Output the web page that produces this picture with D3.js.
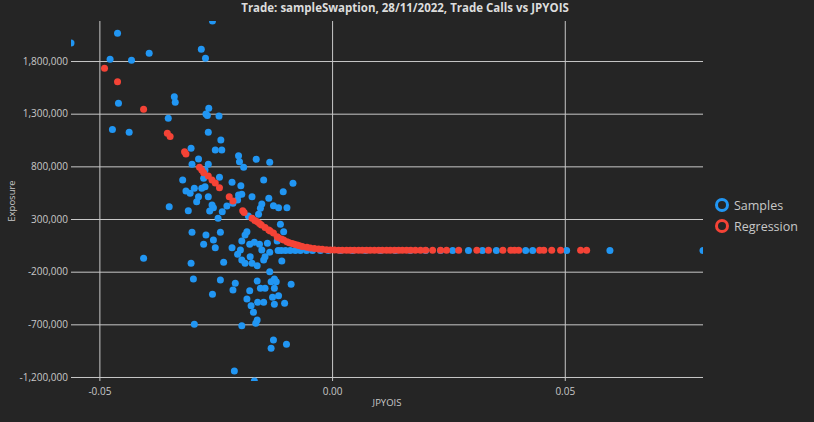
<!DOCTYPE html>
<html lang="en">
<head>
  <meta charset="UTF-8">
  <title>Trade Calls vs JPYOIS</title>
  <script src="https://d3js.org/d3.v7.min.js"></script>
  <style>
    body { margin: 0; background: #252525; }
    svg { display: block; }
    text { font-family: "Open Sans", "Noto Sans", sans-serif; fill: #c8c8c8; }
  </style>
</head>
<body>
<svg id="chart" width="814" height="422"></svg>

<script>
  // Samples: JPYOIS move vs exposure
  const sampleX = [
    -0.0561, -0.0461, -0.0477, -0.0431, -0.0393, -0.0459, -0.0472, -0.0436, -0.0405,
    -0.0257, -0.0281, -0.0272, -0.0339, -0.0337, -0.0352, -0.0265, -0.0271, -0.0268, -0.0243,
    -0.0266, -0.0239, -0.0303, -0.0237, -0.0251, -0.0287, -0.0301, -0.0266, -0.0273,
    -0.0201, -0.0199, -0.0190, -0.0163, -0.0134, -0.0321, -0.0276, -0.0242, -0.0215,
    -0.0196, -0.0147, -0.0084, -0.0314, -0.0296, -0.0280, -0.0273, -0.0305, -0.0287,
    -0.0266, -0.0291, -0.0258, -0.0201, -0.0194, -0.0203, -0.0172, -0.0136, -0.0105,
    -0.0350, -0.0309, -0.0263, -0.0255, -0.0226, -0.0236, -0.0213, -0.0151, -0.0154,
    -0.0126, -0.0115, -0.0097, -0.0245, -0.0180, -0.0158, -0.0111, -0.0301, -0.0271,
    -0.0240, -0.0276, -0.0255, -0.0251, -0.0215, -0.0194, -0.0183, -0.0187, -0.0197,
    -0.0177, -0.0167, -0.0156, -0.0139, -0.0134, -0.0118, -0.0104, -0.0203, -0.0176,
    -0.0303, -0.0233, -0.0194, -0.0187, -0.0172, -0.0161, -0.0147, -0.0144, -0.0108,
    -0.0298, -0.0240, -0.0208, -0.0213, -0.0257, -0.0177, -0.0161, -0.0154, -0.0144,
    -0.0134, -0.0131, -0.0124, -0.0120, -0.0124, -0.0088, -0.0183, -0.0174, -0.0160,
    -0.0147, -0.0128, -0.0115, -0.0124, -0.0102, -0.0169, -0.0161, -0.0164, -0.0194,
    -0.0296, -0.0126, -0.0098, -0.0131, -0.0210, -0.0167, -0.0151,
    -0.0116, -0.0109, -0.0100, -0.0090, -0.0079, -0.0068, -0.0055, -0.0042, -0.0025,
    -0.0008, 0.0018, 0.0044, 0.0072, 0.0104, 0.0136, 0.0168, 0.0201, 0.0233, 0.0259,
    0.0293, 0.0323, 0.0353, 0.0416, 0.0431, 0.0504, 0.0597, 0.0797
  ];
  const sampleY = [
    1970000, 2063000, 1816000, 1807000, 1873000, 1398000, 1151000, 1123000, -73000,
    2180000, 1911000, 1826000, 1461000, 1408000, 1256000, 1351000, 1297000, 1282000, 1278000,
    1123000, 1050000, 971000, 955000, 955000, 870000, 819000, 819000, 765000,
    901000, 844000, 791000, 867000, 838000, 670000, 686000, 696000, 648000,
    616000, 670000, 639000, 566000, 591000, 591000, 607000, 544000, 512000,
    512000, 464000, 433000, 528000, 534000, 480000, 512000, 496000, 559000,
    417000, 379000, 376000, 407000, 423000, 369000, 449000, 442000, 402000,
    426000, 407000, 407000, 307000, 328000, 345000, 250000, 174000, 148000,
    174000, 60000, 101000, 28000, 28000, 91000, 179000, 148000, 6000,
    60000, 79000, 60000, 69000, -16000, 91000, 179000, -35000, -58000,
    -121000, -111000, -89000, -121000, -121000, -143000, -89000, -58000, -99000,
    -270000, -279000, -310000, -374000, -415000, -381000, -289000, -358000, -358000,
    -200000, -295000, -270000, -295000, -358000, -320000, -459000, -523000, -491000,
    -491000, -443000, -428000, -510000, -500000, -586000, -659000, -690000, -713000,
    -700000, -849000, -889000, -927000, -1143000, -1238000, 6000,
    0, 0, 0, 0, 0, 0, 0, 0, 0,
    0, 0, 0, 0, 0, 0, 0, 0, 0, 0,
    0, 0, 0, 0, 0, 0, 0, 0
  ];

  // Regression curve fitted to the samples
  const regX = [
    -0.0489, -0.0461, -0.0405, -0.0354, -0.0348, -0.0317, -0.0314, -0.0285, -0.0280,
    -0.0276, -0.0266, -0.0258, -0.0251, -0.0242, -0.0221, -0.0213, -0.0192, -0.0189,
    -0.0172, -0.0166, -0.0161, -0.0156, -0.0152, -0.0144, -0.0136, -0.0133, -0.0126,
    -0.0118, -0.0116, -0.0109, -0.0104, -0.0097, -0.0092, -0.0086, -0.0081, -0.0075,
    -0.0070, -0.0064, -0.0054, -0.0047, -0.0038, -0.0029, -0.0021, -0.0012, -0.0004,
    0.0005, 0.0014, 0.0022, 0.0031, 0.0039, 0.0048, 0.0057, 0.0065, 0.0074, 0.0082,
    0.0091, 0.0100, 0.0108, 0.0117, 0.0125, 0.0134, 0.0143, 0.0151, 0.0160, 0.0169,
    0.0179, 0.0190, 0.0201, 0.0216, 0.0233, 0.0246, 0.0272, 0.0311, 0.0336, 0.0367,
    0.0384, 0.0392, 0.0401, 0.0446, 0.0455, 0.0472, 0.0491, 0.0534, 0.0547
  ];
  const regY = [
    1731000, 1603000, 1341000, 1114000, 1083000, 939000, 917000, 791000, 765000,
    740000, 708000, 670000, 642000, 597000, 512000, 471000, 379000, 362000,
    307000, 286000, 274000, 257000, 243000, 219000, 196000, 186000, 167000,
    132000, 124000, 110000, 101000, 84000, 74000, 67000, 60000, 53000,
    46000, 39000, 31000, 25000, 19000, 15000, 12000, 9000, 6000,
    5000, 4000, 4000, 4000, 3000, 3000, 3000, 3000, 3000, 3000,
    3000, 3000, 3000, 3000, 3000, 3000, 3000, 3000, 3000, 3000,
    3000, 3000, 3000, 3000, 3000, 3000, 3000, 3000, 3000, 3000,
    3000, 3000, 3000, 3000, 3000, 3000, 3000, 3000, 3000
  ];

  const xTicks = [-0.05, 0.00, 0.05];
  const yTicks = [-1200000, -700000, -200000, 300000, 800000, 1300000, 1800000];
  const seriesNames = ["Samples", "Regression"];
  const seriesColors = ["#2196f3", "#f44336"];

  const locale = d3.formatLocale({decimal: ".", thousands: ",", grouping: [3], currency: ["", ""], minus: "-"});

  const svg = d3.select("#chart");
  const plotLeft = 71, plotRight = 703, plotTop = 21, plotBottom = 381;

  const samples = sampleX.map((x, i) => ({x: x, y: sampleY[i]}));
  const regression = regX.map((x, i) => ({x: x, y: regY[i]}));
  const all = samples.concat(regression);

  // axes span exactly the data extent, like the original
  const x = d3.scaleLinear().domain(d3.extent(all, d => d.x)).range([plotLeft, plotRight]);
  const y = d3.scaleLinear().domain(d3.extent(all, d => d.y)).range([plotBottom, plotTop]);

  svg.append("defs").append("clipPath").attr("id", "plot-clip")
    .append("rect").attr("x", plotLeft).attr("y", plotTop)
    .attr("width", plotRight - plotLeft).attr("height", plotBottom - plotTop);

  // gridlines
  svg.append("g")
    .attr("transform", `translate(0,${plotBottom})`)
    .call(d3.axisBottom(x).tickValues(xTicks).tickSize(-(plotBottom - plotTop)).tickSizeOuter(0).tickFormat(locale.format(".2f")))
    .call(g => g.select(".domain").remove())
    .call(g => g.selectAll(".tick line").attr("stroke", "#c8c8c8"))
    .call(g => g.selectAll(".tick text").attr("y", 7).attr("font-size", 10).attr("fill", "#c8c8c8")
      .style("font-family", "'Open Sans', sans-serif"));

  svg.append("g")
    .attr("transform", `translate(${plotLeft},0)`)
    .call(d3.axisLeft(y).tickValues(yTicks).tickSize(-(plotRight - plotLeft)).tickSizeOuter(0).tickFormat(locale.format(",")))
    .call(g => g.select(".domain").remove())
    .call(g => g.selectAll(".tick line").attr("stroke", "#c8c8c8"))
    .call(g => g.selectAll(".tick text").attr("x", -3).attr("font-size", 10).attr("fill", "#c8c8c8")
      .style("font-family", "'Open Sans', sans-serif"));

  const plot = svg.append("g").attr("clip-path", "url(#plot-clip)");

  plot.append("g").selectAll("circle")
    .data(samples)
    .enter().append("circle")
    .attr("cx", d => x(d.x))
    .attr("cy", d => y(d.y))
    .attr("r", 3.5)
    .attr("fill", seriesColors[0]);

  plot.append("g").selectAll("circle")
    .data(regression)
    .enter().append("circle")
    .attr("cx", d => x(d.x))
    .attr("cy", d => y(d.y))
    .attr("r", 3.5)
    .attr("fill", seriesColors[1]);

  // title and axis labels
  svg.append("text")
    .attr("x", 405).attr("y", 12)
    .attr("text-anchor", "middle")
    .attr("font-size", 11.5).attr("font-weight", "bold")
    .style("fill", "#dcdcdc")
    .text("Trade: sampleSwaption, 28/11/2022, Trade Calls vs JPYOIS");

  svg.append("text")
    .attr("x", 387).attr("y", 406)
    .attr("text-anchor", "middle")
    .attr("font-size", 9.5)
    .text("JPYOIS");

  svg.append("text")
    .attr("transform", "translate(15,201) rotate(-90)")
    .attr("text-anchor", "middle")
    .attr("font-size", 9.5)
    .text("Exposure");

  // legend
  const legend = svg.append("g").selectAll("g")
    .data(seriesNames)
    .enter().append("g")
    .attr("transform", (d, i) => `translate(722,${205 + i * 21})`);

  legend.append("circle")
    .attr("r", 5.5)
    .attr("fill", "#252525")
    .attr("stroke", (d, i) => seriesColors[i])
    .attr("stroke-width", 3);

  legend.append("text")
    .attr("x", 12).attr("y", 4.5)
    .attr("font-size", 12.5)
    .text(d => d);
</script>
</body>
</html>
